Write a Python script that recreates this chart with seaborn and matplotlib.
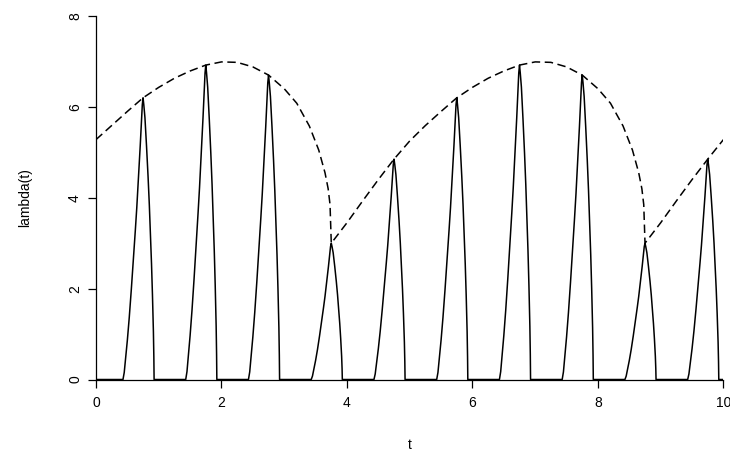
import numpy as np
import pandas as pd
import matplotlib
matplotlib.use("Agg")
import matplotlib.pyplot as plt
import seaborn as sns

# Intensity envelope lambda(t): knots along the dashed curve
env_t = [0.00, 0.25, 0.50, 0.75, 1.00, 1.25, 1.50, 1.75, 2.00, 2.25, 2.50,
         2.75, 3.00, 3.20, 3.40, 3.55, 3.65, 3.70, 3.73, 3.75,
         4.00, 4.25, 4.50, 4.75, 5.00, 5.25, 5.50, 5.75, 6.00, 6.25, 6.50,
         6.75, 7.00, 7.25, 7.50, 7.75, 8.00, 8.20, 8.40, 8.55, 8.65, 8.70,
         8.73, 8.75, 9.00, 9.25, 9.50, 9.75, 10.00]
env_v = [5.28, 5.59, 5.90, 6.20, 6.43, 6.63, 6.79, 6.92, 6.99, 6.98, 6.88,
         6.70, 6.40, 6.08, 5.58, 5.05, 4.55, 4.20, 3.85, 3.00,
         3.45, 3.93, 4.40, 4.85, 5.25, 5.59, 5.90, 6.20, 6.43, 6.63, 6.79,
         6.92, 6.99, 6.98, 6.88, 6.70, 6.40, 6.08, 5.58, 5.05, 4.55, 4.20,
         3.85, 3.00, 3.45, 3.93, 4.40, 4.85, 5.28]

# Pulse peaks (time, height)
peak_t = [0.75, 1.75, 2.75, 3.75, 4.75, 5.75, 6.75, 7.75, 8.75, 9.75]
peak_v = [6.20, 6.92, 6.70, 3.00, 4.85, 6.20, 6.92, 6.70, 3.00, 4.85]

# Shape of one pulse: offset from its peak and fraction of peak height
shape_dt = [-0.32, -0.30, -0.28, -0.25, -0.22, -0.187, -0.15, -0.123, -0.10,
            -0.07, -0.045, -0.027, -0.012, 0.0, 0.012, 0.03, 0.055, 0.08,
            0.10, 0.117, 0.135, 0.150, 0.165, 0.172, 0.176]
shape_f = [0.0, 0.025, 0.07, 0.14, 0.22, 0.32, 0.44, 0.53, 0.61,
           0.73, 0.83, 0.91, 0.975, 1.0, 0.975, 0.93, 0.83, 0.72,
           0.62, 0.52, 0.41, 0.30, 0.17, 0.08, 0.0]

# Assemble the pulse train as one curve resting on zero between pulses
rows_t, rows_v = [0.0], [0.0]
for pt, pv in zip(peak_t, peak_v):
    for dt, f in zip(shape_dt, shape_f):
        rows_t.append(pt + dt)
        rows_v.append(pv * f)
rows_t.append(10.0)
rows_v.append(0.0)
pulses = pd.DataFrame({"t": rows_t, "lambda": rows_v})
envelope = pd.DataFrame({"t": env_t, "lambda": env_v})

sns.set_theme(style="ticks")
plt.rcParams["font.family"] = ["Liberation Sans", "DejaVu Sans"]

fig = plt.figure(figsize=(7.30, 4.51), dpi=100)
ax = fig.add_axes([0.1315, 0.1585, 0.8595, 0.806])

sns.lineplot(data=pulses, x="t", y="lambda", sort=False, estimator=None,
             color="black", linewidth=1.1, ax=ax)
sns.lineplot(data=envelope, x="t", y="lambda", sort=False, estimator=None,
             color="black", linewidth=1.1, dashes=False, ax=ax)
ax.lines[-1].set_dashes([5.5, 3.0])

ax.set_xlim(0, 10)
ax.set_ylim(0, 8)
ax.set_xticks([0, 2, 4, 6, 8, 10])
ax.set_yticks([0, 2, 4, 6, 8])
ax.set_xticklabels(["0", "2", "4", "6", "8", "10"])
ax.set_yticklabels(["0", "2", "4", "6", "8"], rotation=90, va="center")
ax.tick_params(axis="both", direction="out", length=6, width=0.9,
               color="black", labelsize=10, labelcolor="black")
ax.tick_params(axis="x", pad=6)
ax.tick_params(axis="y", pad=4)
ax.set_xlabel("t", fontsize=10, color="black", labelpad=20)
ax.set_ylabel("lambda(t)", fontsize=10, color="black", labelpad=26)
sns.despine(ax=ax)
for side in ("left", "bottom"):
    ax.spines[side].set_color("black")
    ax.spines[side].set_linewidth(0.9)
ax.set_facecolor("white")
ax.grid(False)

fig.savefig("out.png", dpi=100, facecolor="white")
